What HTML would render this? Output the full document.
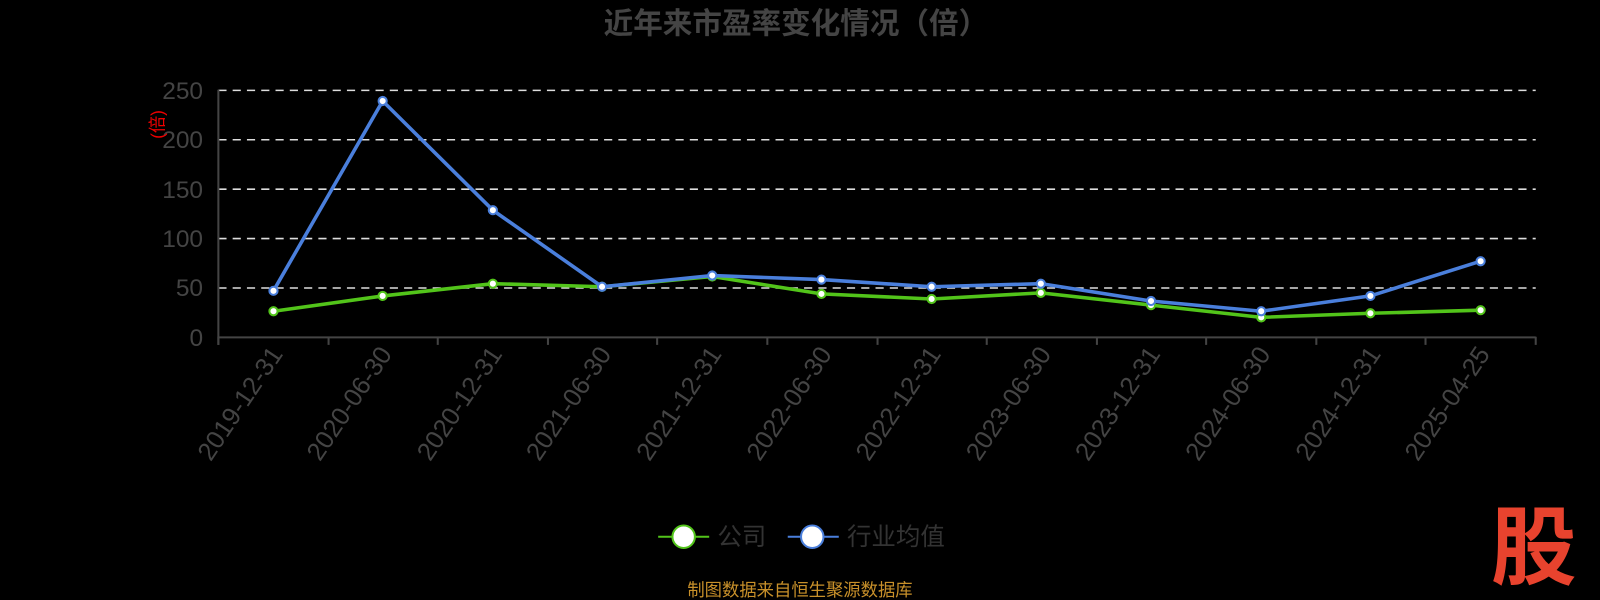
<!DOCTYPE html>
<html><head><meta charset="utf-8"><style>
html,body{margin:0;padding:0;background:#000;width:1600px;height:600px;overflow:hidden}
svg{display:block}
text{font-family:"Liberation Sans","Noto Sans CJK SC",sans-serif}
</style></head><body>
<svg width="1600" height="600" viewBox="0 0 1568 588" preserveAspectRatio="none" xmlns="http://www.w3.org/2000/svg">
<rect width="1568" height="588" fill="#000"/>
<text x="780" y="33" text-anchor="middle" font-size="29" font-weight="bold" fill="#444">近年来市盈率变化情况（倍）</text>
<g stroke="#ddd" stroke-width="1.5" stroke-dasharray="8,6">
<line x1="214" y1="88.6" x2="1505" y2="88.6"/>
<line x1="214" y1="137" x2="1505" y2="137"/>
<line x1="214" y1="185.4" x2="1505" y2="185.4"/>
<line x1="214" y1="233.8" x2="1505" y2="233.8"/>
<line x1="214" y1="282.2" x2="1505" y2="282.2"/>
</g>
<g fill="#444" font-size="24" text-anchor="end">
<text x="199" y="97">250</text><text x="199" y="145">200</text><text x="199" y="194">150</text>
<text x="199" y="242">100</text><text x="199" y="290">50</text><text x="199" y="339">0</text>
</g>
<text transform="translate(160,122) rotate(-90)" text-anchor="middle" font-size="17" fill="#e00">(倍)</text>
<g stroke="#444" stroke-width="2">
<line x1="214" y1="88" x2="214" y2="338"/>
<line x1="214" y1="330.6" x2="1505" y2="330.6"/>
<line x1="214" y1="330" x2="214" y2="338"/><line x1="322" y1="330" x2="322" y2="338"/><line x1="429" y1="330" x2="429" y2="338"/><line x1="537" y1="330" x2="537" y2="338"/><line x1="644" y1="330" x2="644" y2="338"/><line x1="752" y1="330" x2="752" y2="338"/><line x1="860" y1="330" x2="860" y2="338"/><line x1="967" y1="330" x2="967" y2="338"/><line x1="1075" y1="330" x2="1075" y2="338"/><line x1="1182" y1="330" x2="1182" y2="338"/><line x1="1290" y1="330" x2="1290" y2="338"/><line x1="1397" y1="330" x2="1397" y2="338"/><line x1="1505" y1="330" x2="1505" y2="338"/>
</g>
<g fill="#444" font-size="25" text-anchor="end">
<text transform="translate(278,347) rotate(-56)">2019-12-31</text>
<text transform="translate(385,347) rotate(-56)">2020-06-30</text>
<text transform="translate(493,347) rotate(-56)">2020-12-31</text>
<text transform="translate(600,347) rotate(-56)">2021-06-30</text>
<text transform="translate(708,347) rotate(-56)">2021-12-31</text>
<text transform="translate(816,347) rotate(-56)">2022-06-30</text>
<text transform="translate(923,347) rotate(-56)">2022-12-31</text>
<text transform="translate(1031,347) rotate(-56)">2023-06-30</text>
<text transform="translate(1138,347) rotate(-56)">2023-12-31</text>
<text transform="translate(1246,347) rotate(-56)">2024-06-30</text>
<text transform="translate(1354,347) rotate(-56)">2024-12-31</text>
<text transform="translate(1461,347) rotate(-56)">2025-04-25</text>
</g>
<polyline fill="none" stroke="#52c41a" stroke-width="3.5" points="268,305 375,290 483,278 590,281 698,271 805,288 913,293 1020,287 1128,299 1236,311 1343,307 1451,304"/>
<g fill="#fff" stroke="#52c41a" stroke-width="2">
<circle cx="268" cy="305" r="4"/><circle cx="375" cy="290" r="4"/><circle cx="483" cy="278" r="4"/><circle cx="590" cy="281" r="4"/><circle cx="698" cy="271" r="4"/><circle cx="805" cy="288" r="4"/><circle cx="913" cy="293" r="4"/><circle cx="1020" cy="287" r="4"/><circle cx="1128" cy="299" r="4"/><circle cx="1236" cy="311" r="4"/><circle cx="1343" cy="307" r="4"/><circle cx="1451" cy="304" r="4"/>
</g>
<polyline fill="none" stroke="#4a7fdc" stroke-width="3.5" points="268,285 375,99 483,206 590,281 698,270 805,274 913,281 1020,278 1128,295 1236,305 1343,290 1451,256"/>
<g fill="#fff" stroke="#4a7fdc" stroke-width="2">
<circle cx="268" cy="285" r="4"/><circle cx="375" cy="99" r="4"/><circle cx="483" cy="206" r="4"/><circle cx="590" cy="281" r="4"/><circle cx="698" cy="270" r="4"/><circle cx="805" cy="274" r="4"/><circle cx="913" cy="281" r="4"/><circle cx="1020" cy="278" r="4"/><circle cx="1128" cy="295" r="4"/><circle cx="1236" cy="305" r="4"/><circle cx="1343" cy="290" r="4"/><circle cx="1451" cy="256" r="4"/>
</g>
<line x1="645" y1="526" x2="695" y2="526" stroke="#52c41a" stroke-width="2"/>
<circle cx="670" cy="526" r="11" fill="#fff" stroke="#52c41a" stroke-width="2"/>
<text x="703" y="534" font-size="24" fill="#333">公司</text>
<line x1="772" y1="526" x2="822" y2="526" stroke="#4a7fdc" stroke-width="2"/>
<circle cx="796" cy="526" r="11" fill="#fff" stroke="#4a7fdc" stroke-width="2"/>
<text x="830" y="534" font-size="24" fill="#333">行业均值</text>
<text x="784" y="584" text-anchor="middle" font-size="17" fill="#c8902a">制图数据来自恒生聚源数据库</text>
<text x="1503" y="566" text-anchor="middle" font-size="84" font-weight="bold" fill="#e8432e">股</text>
</svg>
</body></html>
